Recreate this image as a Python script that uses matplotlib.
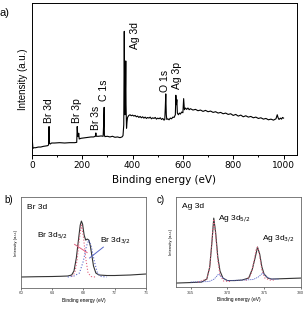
import numpy as np
import matplotlib.pyplot as plt

plt.rcParams['font.family'] = ['Liberation Sans', 'DejaVu Sans']

# ---- panel a: survey spectrum (hand) ----
survey_x = [0, 1, 2, 4, 8, 15, 25, 35, 45, 55, 62, 66, 68, 70, 73, 78, 90, 110, 130, 150,
            170, 178, 180, 182, 184, 186, 188, 195, 205, 215, 225, 235, 245, 252, 254, 256,
            265, 275, 283, 285, 287, 288, 290, 300, 310, 320, 330, 340, 350, 358, 362, 365,
            367, 368.5, 370, 372, 373, 374, 376, 378,
            380, 385, 390, 395, 400, 405, 410, 415, 420, 425, 430, 435, 440, 445, 450, 455,
            460, 465, 470, 475, 480, 485, 490, 495, 500, 505, 510, 515, 520, 525, 528, 530,
            532, 534, 536, 540, 545, 550, 555, 560, 565, 570, 572, 574, 576, 578, 582, 586,
            590, 595, 600, 603, 606, 610, 615, 620, 625, 630, 640, 650, 660, 670, 680, 690,
            700, 710, 720, 730, 740, 750, 760, 770, 780, 790, 800, 810, 820, 830, 840, 850,
            860, 870, 880, 890, 900, 910, 920, 930, 940, 950, 960, 965, 970, 975, 978, 982,
            988, 992, 996, 1000]
survey_y = [30, 55, 40, 20, 22, 22, 24, 24, 26, 27, 28, 30, 85, 35, 33, 36, 36, 37, 36, 37,
            37, 38, 85, 60, 55, 65, 48, 50, 51, 52, 53, 54, 54, 56, 66, 56,
            56, 57, 56, 90, 142, 60, 55, 56, 54, 56, 53, 54, 52, 54, 58, 90,
            368, 200, 120, 210, 280, 150, 80, 100,
            112, 118, 120, 117, 119, 116, 118, 114, 116, 112, 115, 111, 114, 110, 113, 109,
            112, 110, 113, 108, 111, 109, 112, 107, 110, 108, 111, 106, 109, 104, 106, 140,
            182, 120, 106, 108, 105, 110, 108, 113, 112, 120, 178, 150, 165, 125, 120, 125,
            122, 128, 126, 168, 135, 140, 136, 140, 135, 138, 134, 136, 132, 134, 130, 133,
            129, 131, 127, 129, 125, 127, 123, 125, 121, 123, 118, 121, 116, 119, 114, 117,
            113, 115, 111, 113, 109, 111, 107, 109, 105, 107, 104, 106, 108, 120, 112, 106,
            110, 107, 112, 110]
peak_labels = ['Br 3d', 'Br 3p', 'Br 3s', 'C 1s', 'Ag 3d', 'O 1s', 'Ag 3p']
peak_label_x = [66, 178, 253, 286, 409, 528, 577]
peak_label_y = [95, 95, 75, 160, 315, 188, 198]

# ---- panel b: Br 3d ----
br_x = [60, 62, 64, 65, 66, 66.5, 66.8, 67.1, 67.4, 67.6, 67.75, 67.9, 68.1, 68.3, 68.5,
        68.7, 68.9, 69.1, 69.3, 69.6, 70, 71, 72, 74, 76]
br_y = [11, 11.3, 11.5, 11.7, 12, 13, 17, 30, 50, 63, 67, 64, 53, 48, 49,
        48, 42, 32, 22, 15, 13, 12.5, 12.5, 13, 14]
br52_x = [66.5, 66.9, 67.2, 67.5, 67.75, 68.0, 68.3, 68.6, 69.0, 69.5]
br52_y = [11.5, 15, 28, 50, 63, 52, 30, 15, 11.5, 11]
br32_x = [66.0, 66.8, 67.5, 68.0, 68.4, 68.7, 69.0, 69.4, 69.8, 70.3, 71]
br32_y = [11, 12, 15, 27, 42, 48, 42, 27, 15, 11.5, 11]

# ---- panel c: Ag 3d ----
ag_x = [363, 365, 366.5, 367.2, 367.6, 367.9, 368.15, 368.4, 368.7, 369.0, 369.4, 370, 371,
        372, 372.9, 373.4, 373.8, 374.1, 374.4, 374.7, 375.0, 375.5, 376, 378, 380]
ag_y = [4.0, 4.5, 5, 8, 20, 45, 69, 55, 30, 16, 9, 6.5, 6.5,
        7, 9, 18, 30, 40, 33, 20, 13, 9, 8, 8.5, 9]
ag52_x = [366, 367.2, 367.6, 367.9, 368.15, 368.4, 368.7, 369.0, 369.5, 370.5]
ag52_y = [5, 8, 20, 45, 68, 53, 27, 12, 6, 5.5]
ag32_x = [372.5, 373.2, 373.6, 373.9, 374.1, 374.35, 374.7, 375.1, 375.8, 376.5]
ag32_y = [6.5, 12, 25, 37, 40, 33, 17, 9, 7, 7]
agsat_x = [365, 367.5, 368.2, 368.8, 369.4, 370, 372, 373.5, 374.2, 374.8, 375.4, 376, 377]
agsat_y = [5, 5.5, 8, 13, 9, 6.5, 7, 7.5, 10, 14, 10, 8, 8]

pink = '#e0607e'
blue = '#5866c8'

fig = plt.figure(figsize=(3.07, 3.09), dpi=100)

# panel a
ax = fig.add_axes([0.104, 0.498, 0.863, 0.492])
ax.plot(survey_x, survey_y, color='black', lw=0.8)
for lab, lx, ly in zip(peak_labels, peak_label_x, peak_label_y):
    ax.text(lx, ly, lab, rotation=90, ha='center', va='bottom', fontsize=7.5)
ax.set_xlim(0, 1053)
ax.set_ylim(0, 452)
ax.set_xticks([0, 200, 400, 600, 800, 1000])
ax.set_xticks([100, 300, 500, 700, 900], minor=True)
ax.set_yticks([])
ax.tick_params(axis='x', direction='out', length=3, width=0.7, labelsize=6.5, pad=1.5)
ax.tick_params(axis='x', which='minor', length=1.5, width=0.7)
for lbl in ax.get_xticklabels():
    lbl.set_family('DejaVu Sans')
ax.set_xlabel('Binding energy (eV)', fontsize=7.5, family='DejaVu Sans', labelpad=3)
ax.set_ylabel('Intensity (a.u.)', fontsize=7, labelpad=3)
for s in ax.spines.values():
    s.set_linewidth(0.7)
fig.text(0.0, 0.975, 'a)', fontsize=8, va='top')

# panel b
bx = fig.add_axes([0.068, 0.068, 0.407, 0.294])
bx.plot(br_x, br_y, color='#333333', lw=0.8)
bx.plot(br52_x, br52_y, color=pink, lw=0.8, ls=':')
bx.plot(br32_x, br32_y, color=blue, lw=0.8, ls=':')
bx.plot([0.43, 0.53], [0.48, 0.39], color=pink, lw=0.7, transform=bx.transAxes)
bx.plot([0.66, 0.55], [0.45, 0.33], color=blue, lw=0.7, transform=bx.transAxes)
bx.set_xlim(60, 76)
bx.set_ylim(0, 91)
bx.set_xticks([60, 64, 68, 72, 76])
bx.set_yticks([])
bx.text(0.05, 0.93, 'Br 3d', transform=bx.transAxes, fontsize=6, va='top')
bx.text(0.13, 0.56, r'Br 3d$_{5/2}$', transform=bx.transAxes, fontsize=6)
bx.text(0.63, 0.51, r'Br 3d$_{3/2}$', transform=bx.transAxes, fontsize=6)
bx.set_xlabel('Binding energy (eV)', fontsize=3.5, labelpad=1.5)
bx.set_ylabel('Intensity (a.u.)', fontsize=3, labelpad=2)
bx.tick_params(axis='x', direction='out', length=1.5, width=0.5, labelsize=3.2, pad=1,
               colors='#444444')
for s in bx.spines.values():
    s.set_linewidth(0.6)
    s.set_color('#666666')
fig.text(0.015, 0.37, 'b)', fontsize=7, va='top')

# panel c
cx = fig.add_axes([0.573, 0.071, 0.407, 0.291])
cx.plot(ag_x, ag_y, color='#333333', lw=0.8)
cx.plot(ag52_x, ag52_y, color=pink, lw=0.8, ls=':')
cx.plot(ag32_x, ag32_y, color=pink, lw=0.8, ls=':')
cx.plot(agsat_x, agsat_y, color=blue, lw=0.6, ls='--', dashes=(1.5, 1))
cx.set_xlim(363, 380)
cx.set_ylim(0, 90)
cx.set_xticks([365, 370, 375, 380])
cx.set_yticks([])
cx.text(0.05, 0.93, 'Ag 3d', transform=cx.transAxes, fontsize=6, va='top')
cx.text(0.34, 0.75, r'Ag 3d$_{5/2}$', transform=cx.transAxes, fontsize=6)
cx.text(0.69, 0.52, r'Ag 3d$_{3/2}$', transform=cx.transAxes, fontsize=6)
cx.set_xlabel('Binding energy (eV)', fontsize=3.5, labelpad=1.5)
cx.set_ylabel('Intensity (a.u.)', fontsize=3, labelpad=2)
cx.tick_params(axis='x', direction='out', length=1.5, width=0.5, labelsize=3.2, pad=1,
               colors='#444444')
for s in cx.spines.values():
    s.set_linewidth(0.6)
    s.set_color('#666666')
fig.text(0.51, 0.37, 'c)', fontsize=7, va='top')

fig.savefig('out.png', dpi=100)
